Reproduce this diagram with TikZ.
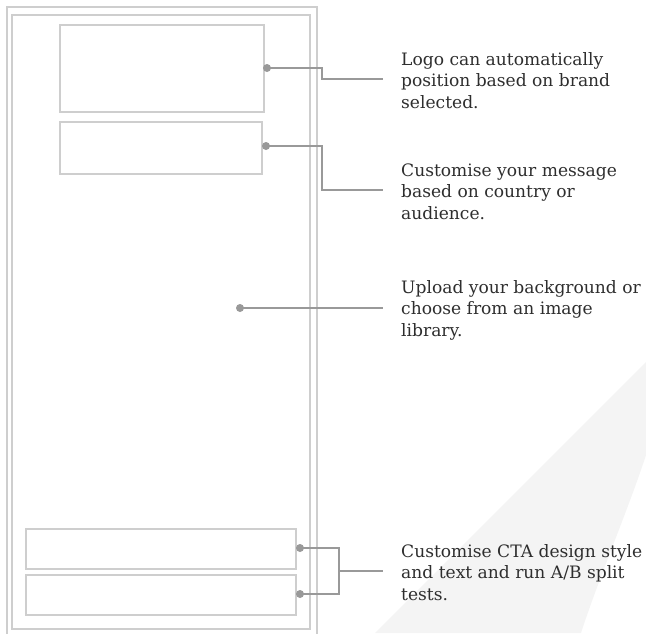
\documentclass[tikz,border=0pt]{standalone}
\usepackage{fontspec}
\setmainfont{DejaVu Serif}
\definecolor{boxgray}{HTML}{CECECE}
\definecolor{conngray}{HTML}{999999}
\definecolor{bggray}{HTML}{F4F4F4}
\definecolor{textgray}{HTML}{2E2E2E}
\tikzset{
  box/.style={draw=boxgray, line width=1.8pt, inner sep=0pt, anchor=north west},
  frame/.style={draw=boxgray, line width=1.8pt},
  dot/.style={circle, fill=conngray, inner sep=0pt, minimum size=8pt},
  conn/.style={draw=conngray, line width=1.6pt},
  label/.style={anchor=base west, inner sep=0pt, align=left, text=textgray,
    font=\fontsize{17.1}{21.5}\selectfont},
}
\begin{document}
\begin{tikzpicture}[x=1pt,y=-1pt]
\clip (0,0) rectangle (646,633);
\fill[white] (0,0) rectangle (646,633);
% background shape
\fill[bggray] (375,633) -- (646,362) -- (646,455) .. controls (628,510) and (598,580) .. (581,633) -- cycle;
% frames
\draw[frame] (7,7) rectangle (317,645);
\draw[frame] (12,15) rectangle (310,629);
% boxes
\node[box, minimum width=204pt, minimum height=87pt] (logo) at (59,24) {};
\node[box, minimum width=202pt, minimum height=52pt] (msg) at (59,121) {};
\node[box, minimum width=270pt, minimum height=40pt] (ctaA) at (25,528) {};
\node[box, minimum width=270pt, minimum height=40pt] (ctaB) at (25,574) {};
% dots
\node[dot] (d1) at (267,68) {};
\node[dot] (d2) at (266,146) {};
\node[dot] (d3) at (240,308) {};
\node[dot] (d4) at (300,548) {};
\node[dot] (d5) at (300,594) {};
% labels (anchored at the baseline of the last line)
\node[label] (t1) at (401,108) {Logo can automatically\\position based on brand\\selected.};
\node[label] (t2) at (401,219) {Customise your message\\based on country or\\audience.};
\node[label] (t3) at (401,336) {Upload your background or\\choose from an image\\library.};
\node[label] (t4) at (401,600) {Customise CTA design style\\and text and run A/B split\\tests.};
% connector ends
\coordinate (e1) at (383,79);
\coordinate (e2) at (383,190);
\coordinate (e3) at (383,308);
\coordinate (e4) at (383,571);
\coordinate (j4) at (339,571);
% connectors
\draw[conn] (d1.center) -- (322,68) |- (e1);
\draw[conn] (d2.center) -- (322,146) |- (e2);
\draw[conn] (d3.center) -- (e3);
\draw[conn] (d4.center) -| (j4) |- (d5.center);
\draw[conn] (j4) -- (e4);
\end{tikzpicture}
\end{document}
